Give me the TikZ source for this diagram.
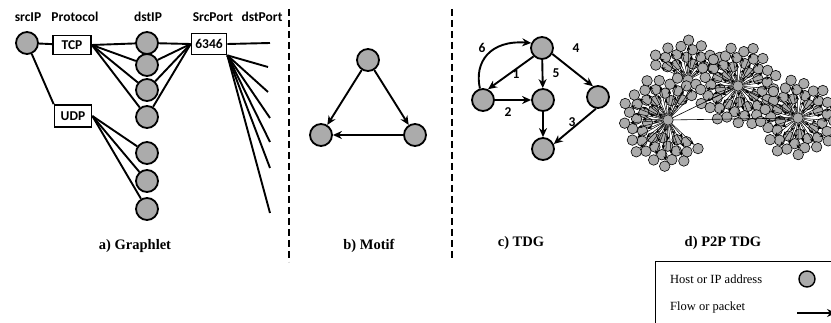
\documentclass[tikz,border=0pt]{standalone}
\usepackage{fontspec}
\setmainfont{Liberation Serif}
\newfontfamily\carl{Carlito}
\usetikzlibrary{arrows.meta}
% #1 prefix, #2 hx, #3 hy, #4 N, #5 start angle, #6 span, #7 r0, #8 area per leaf
\newcommand\drawcluster[8]{%
  \node[leaf] (#1h) at (#2,#3) {};
  \foreach \k in {1,...,#4} {
    \pgfmathsetmacro\ang{#5+#6*mod(\k*0.618034,1)}
    \pgfmathsetmacro\rr{sqrt(#7*#7+\k*#8/(pi*#6)*360)}
    \node[leaf] (#1\k) at ({#2+\rr*cos(\ang)},{#3+\rr*sin(\ang)}) {};
    \draw[p2p] (#1h) -- (#1\k);
  }
}
\begin{document}
\begin{tikzpicture}[x=1pt,y=-1pt,
  hdr/.style={font=\carl\bfseries\fontsize{13.5}{15}\selectfont, inner sep=0},
  host/.style={circle, draw, line width=1.8pt, fill=black!33, minimum size=22pt, inner sep=0},
  pbox/.style={draw, line width=1.7pt, fill=white, font=\carl\bfseries\fontsize{13.5}{15}\selectfont, inner sep=0},
  gl/.style={line width=1.9pt},
  arr/.style={line width=1.9pt, -{Stealth[length=9pt,width=8pt]}},
  ttl/.style={font=\bfseries\fontsize{14.5}{16}\selectfont, inner sep=0},
  num/.style={font=\carl\bfseries\fontsize{13.5}{15}\selectfont, inner sep=0},
  leaf/.style={circle, draw, line width=0.6pt, fill=black!33, minimum size=10.5pt, inner sep=0},
  p2p/.style={line width=0.5pt, -{Stealth[length=4.5pt,width=3.5pt]}},
  divider/.style={line width=1.1pt, dash pattern=on 7pt off 4pt},
  lgd/.style={font=\fontsize{12.5}{14}\selectfont, inner sep=0, anchor=west}
]
\useasboundingbox (0,0) rectangle (831,323);
\clip (0,0) rectangle (831,323);

% ---------- a) Graphlet ----------
\node[hdr] (hsrc) at (28,17) {srcIP};
\node[hdr] (hproto) at (75,17) {Protocol};
\node[hdr] (hdst) at (148,17) {dstIP};
\node[hdr] (hsport) at (213,17) {SrcPort};
\node[hdr] (hdport) at (262,17) {dstPort};

\node[host] (src) at (27,43) {};
\node[pbox, minimum width=38pt, minimum height=19pt] (tcp) at (72,45) {TCP};
\node[pbox, minimum width=37pt, minimum height=22pt] (udp) at (73,116) {UDP};
\node[pbox, minimum width=35pt, minimum height=21pt] (port) at (209,44) {6346};
\foreach \i/\y in {1/43,2/65,3/90,4/117,5/153,6/181,7/209}
  \node[host] (d\i) at (147,\y) {};
\foreach \i/\x/\y in {1/270/43,2/268/67,3/268/92,4/270/118,5/270/142,6/270/168,7/270/213}
  \coordinate (e\i) at (\x,\y);

\draw[gl] (src) -- (tcp);
\draw[gl] (src) -- (udp.north west);
\draw[gl] (tcp.east) -- (d1);
\foreach \i in {2,3,4} \draw[gl] (tcp.east) -- (d\i);
\foreach \i in {5,6,7} \draw[gl] (udp.east) -- (d\i);
\foreach \i in {1,2,3,4} \draw[gl] (d\i) -- (port.west);
\draw[gl] (port.east) -- (e1);
\foreach \i in {2,...,7} \draw[gl] (port.south east) -- (e\i);

\node[ttl] (ta) at (135,246) {a) Graphlet};

% dividers
\coordinate (v1a) at (289,9);
\coordinate (v1b) at (289,262);
\coordinate (v2a) at (452,9);
\coordinate (v2b) at (452,258);
\draw[divider] (v1a) -- (v1b);
\draw[divider] (v2a) -- (v2b);

% ---------- b) Motif ----------
\node[host] (m1) at (368,60) {};
\node[host] (m2) at (321,135) {};
\node[host] (m3) at (415,135) {};
\draw[arr] (m1) -- (m2);
\draw[arr] (m1) -- (m3);
\draw[arr] (m3) -- (m2);
\node[ttl] (tb) at (369,246) {b) Motif};

% ---------- c) TDG ----------
\node[host] (t1) at (542,48) {};
\node[host] (t2) at (483,100) {};
\node[host] (t3) at (543,100) {};
\node[host] (t4) at (598,97) {};
\node[host] (t5) at (543,149) {};
\draw[arr] (t1.225) -- (t2.65);
\draw[arr] (t2) -- (t3);
\draw[arr] (t1) -- (t3);
\draw[arr] (t1.330) -- (t4.115);
\draw[arr] (t4.260) -- (t5.25);
\draw[arr] (t3) -- (t5);
\draw[arr] (t2.105) .. controls (474,62) and (490,40) .. (t1.155);
\node[num] (n1) at (516,74) {1};
\node[num] (n2) at (508,112) {2};
\node[num] (n3) at (572,122) {3};
\node[num] (n4) at (576,48) {4};
\node[num] (n5) at (556,73) {5};
\node[num] (n6) at (482,48) {6};
\node[ttl] (tc) at (521,243) {c) TDG};

% ---------- d) P2P TDG ----------
\drawcluster{T}{688}{80}{18}{200}{140}{14}{100}
\drawcluster{L}{668}{120}{44}{40}{280}{16}{105}
\drawcluster{M}{738}{86}{46}{0}{360}{14}{100}
\drawcluster{R}{798}{118}{42}{0}{360}{14}{100}
\draw[line width=0.6pt] (Lh) -- (Rh);
\draw[line width=0.6pt] (Lh) -- (Mh);
\draw[line width=0.6pt] (Th) -- (Lh);
\draw[line width=0.6pt] (Mh) -- (Rh);
\node[ttl] (td) at (723,243) {d) P2P TDG};

% ---------- legend ----------
\draw[line width=1pt] (655,262) rectangle (850,340);
\node[lgd] (lg1) at (670,279) {Host or IP address};
\node[lgd] (lg2) at (670,307) {Flow or packet};
\node[host, minimum size=16pt, line width=1.4pt] (lgc) at (807,279) {};
\coordinate (la) at (797,313);
\coordinate (lb) at (836,313);
\draw[arr, line width=1.4pt] (la) -- (lb);
\end{tikzpicture}
\end{document}
